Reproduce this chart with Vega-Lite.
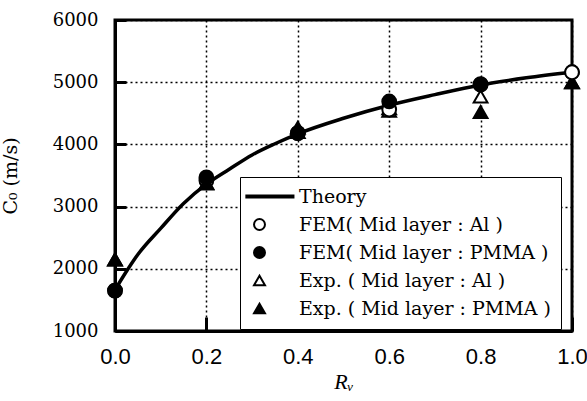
{
  "$schema": "https://vega.github.io/schema/vega-lite/v6.json",
  "autosize": "none",
  "width": 457,
  "height": 311,
  "padding": {"left": 115, "top": 20, "right": 15, "bottom": 70},
  "background": "white",
  "config": {
    "view": {"stroke": "black", "strokeWidth": 3},
    "axis": {
      "domainColor": "black",
      "domainWidth": 3,
      "gridColor": "black",
      "gridDash": [2, 3],
      "gridWidth": 1.5,
      "gridOpacity": 1,
      "tickColor": "black",
      "tickWidth": 3,
      "labelColor": "black",
      "titleColor": "black",
      "labelFlush": false,
      "labelOverlap": false
    },
    "legend": {
      "orient": "none",
      "legendX": 125,
      "legendY": 157,
      "strokeColor": "black",
      "fillColor": "white",
      "padding": 10,
      "symbolSize": 120,
      "symbolStrokeColor": "black",
      "symbolStrokeWidth": 2,
      "labelFont": "DejaVu Serif",
      "labelFontSize": 19,
      "labelColor": "black",
      "labelOffset": 30,
      "labelLimit": 266,
      "rowPadding": 8
    }
  },
  "datasets": {
    "theory": [
      {"r": 0.0, "c": 1660},
      {"r": 0.02, "c": 1900},
      {"r": 0.05, "c": 2230},
      {"r": 0.1, "c": 2650},
      {"r": 0.15, "c": 3050},
      {"r": 0.2, "c": 3360},
      {"r": 0.25, "c": 3600},
      {"r": 0.3, "c": 3830},
      {"r": 0.35, "c": 4010},
      {"r": 0.4, "c": 4170},
      {"r": 0.5, "c": 4420},
      {"r": 0.6, "c": 4630},
      {"r": 0.7, "c": 4800},
      {"r": 0.8, "c": 4955},
      {"r": 0.9, "c": 5070},
      {"r": 1.0, "c": 5165}
    ],
    "points": [
      {"r": 0.0, "c": 1650, "s": "FEM( Mid layer : Al )"},
      {"r": 0.0, "c": 1650, "s": "FEM( Mid layer : PMMA )"},
      {"r": 0.0, "c": 2150, "s": "Exp. ( Mid layer : Al )"},
      {"r": 0.0, "c": 2150, "s": "Exp. ( Mid layer : PMMA )"},
      {"r": 0.2, "c": 3420, "s": "FEM( Mid layer : Al )"},
      {"r": 0.2, "c": 3380, "s": "Exp. ( Mid layer : Al )"},
      {"r": 0.2, "c": 3370, "s": "Exp. ( Mid layer : PMMA )"},
      {"r": 0.2, "c": 3470, "s": "FEM( Mid layer : PMMA )"},
      {"r": 0.4, "c": 4180, "s": "FEM( Mid layer : Al )"},
      {"r": 0.4, "c": 4200, "s": "Exp. ( Mid layer : Al )"},
      {"r": 0.4, "c": 4180, "s": "FEM( Mid layer : PMMA )"},
      {"r": 0.4, "c": 4270, "s": "Exp. ( Mid layer : PMMA )"},
      {"r": 0.6, "c": 4580, "s": "Exp. ( Mid layer : PMMA )"},
      {"r": 0.6, "c": 4540, "s": "Exp. ( Mid layer : Al )"},
      {"r": 0.6, "c": 4560, "s": "FEM( Mid layer : Al )"},
      {"r": 0.6, "c": 4690, "s": "FEM( Mid layer : PMMA )"},
      {"r": 0.8, "c": 4520, "s": "Exp. ( Mid layer : PMMA )"},
      {"r": 0.8, "c": 4770, "s": "Exp. ( Mid layer : Al )"},
      {"r": 0.8, "c": 4960, "s": "FEM( Mid layer : Al )"},
      {"r": 0.8, "c": 4970, "s": "FEM( Mid layer : PMMA )"},
      {"r": 1.0, "c": 5160, "s": "FEM( Mid layer : PMMA )"},
      {"r": 1.0, "c": 5000, "s": "Exp. ( Mid layer : Al )"},
      {"r": 1.0, "c": 5000, "s": "Exp. ( Mid layer : PMMA )"},
      {"r": 1.0, "c": 5160, "s": "FEM( Mid layer : Al )"}
    ]
  },
  "encoding": {
    "x": {
      "field": "r",
      "type": "quantitative",
      "scale": {"domain": [0, 1], "nice": false},
      "axis": {
        "values": [0, 0.2, 0.4, 0.6, 0.8, 1.0],
        "format": ".1f",
        "title": "Rᵥ",
        "titleFont": "Liberation Serif",
        "titleFontStyle": "italic",
        "titleFontWeight": "normal",
        "titleFontSize": 22,
        "titlePadding": 4,
        "labelFont": "Liberation Sans",
        "labelFontSize": 22,
        "labelPadding": 29,
        "tickSize": -14,
        "grid": true
      }
    },
    "y": {
      "field": "c",
      "type": "quantitative",
      "scale": {"domain": [1000, 6000], "nice": false},
      "axis": {
        "values": [1000, 2000, 3000, 4000, 5000, 6000],
        "format": "d",
        "title": "C₀ (m/s)",
        "titleFont": "DejaVu Serif",
        "titleFontWeight": "normal",
        "titleFontSize": 19,
        "titlePadding": 32,
        "labelFont": "DejaVu Serif",
        "labelFontSize": 18,
        "labelPadding": 28,
        "tickSize": -11,
        "grid": true
      }
    }
  },
  "layer": [
    {
      "data": {"name": "theory"},
      "mark": {"type": "line", "color": "black", "strokeWidth": 3.5, "interpolate": "monotone"},
      "encoding": {}
    },
    {
      "data": {"name": "points"},
      "mark": {"type": "point", "filled": true, "opacity": 1, "size": 190, "strokeWidth": 2},
      "encoding": {
        "stroke": {
          "field": "s",
          "type": "nominal",
          "scale": {
            "domain": ["Theory", "FEM( Mid layer : Al )", "FEM( Mid layer : PMMA )", "Exp. ( Mid layer : Al )", "Exp. ( Mid layer : PMMA )"],
            "range": ["black", "black", "black", "black", "black"]
          },
          "legend": {
            "title": null,
            "encode": {"legend": {"update": {"strokeWidth": {"value": 3}}}}
          }
        },
        "shape": {
          "field": "s",
          "type": "nominal",
          "scale": {
            "domain": ["Theory", "FEM( Mid layer : Al )", "FEM( Mid layer : PMMA )", "Exp. ( Mid layer : Al )", "Exp. ( Mid layer : PMMA )"],
            "range": ["M-2.4,-0.2H6.2V0.2H-2.4Z", "circle", "circle", "triangle-up", "triangle-up"]
          },
          "legend": {
            "title": null,
            "encode": {"legend": {"update": {"strokeWidth": {"value": 3}}}}
          }
        },
        "fill": {
          "field": "s",
          "type": "nominal",
          "scale": {
            "domain": ["Theory", "FEM( Mid layer : Al )", "FEM( Mid layer : PMMA )", "Exp. ( Mid layer : Al )", "Exp. ( Mid layer : PMMA )"],
            "range": ["black", "white", "black", "white", "black"]
          },
          "legend": {
            "title": null,
            "encode": {"legend": {"update": {"strokeWidth": {"value": 3}}}}
          }
        }
      }
    }
  ]
}
